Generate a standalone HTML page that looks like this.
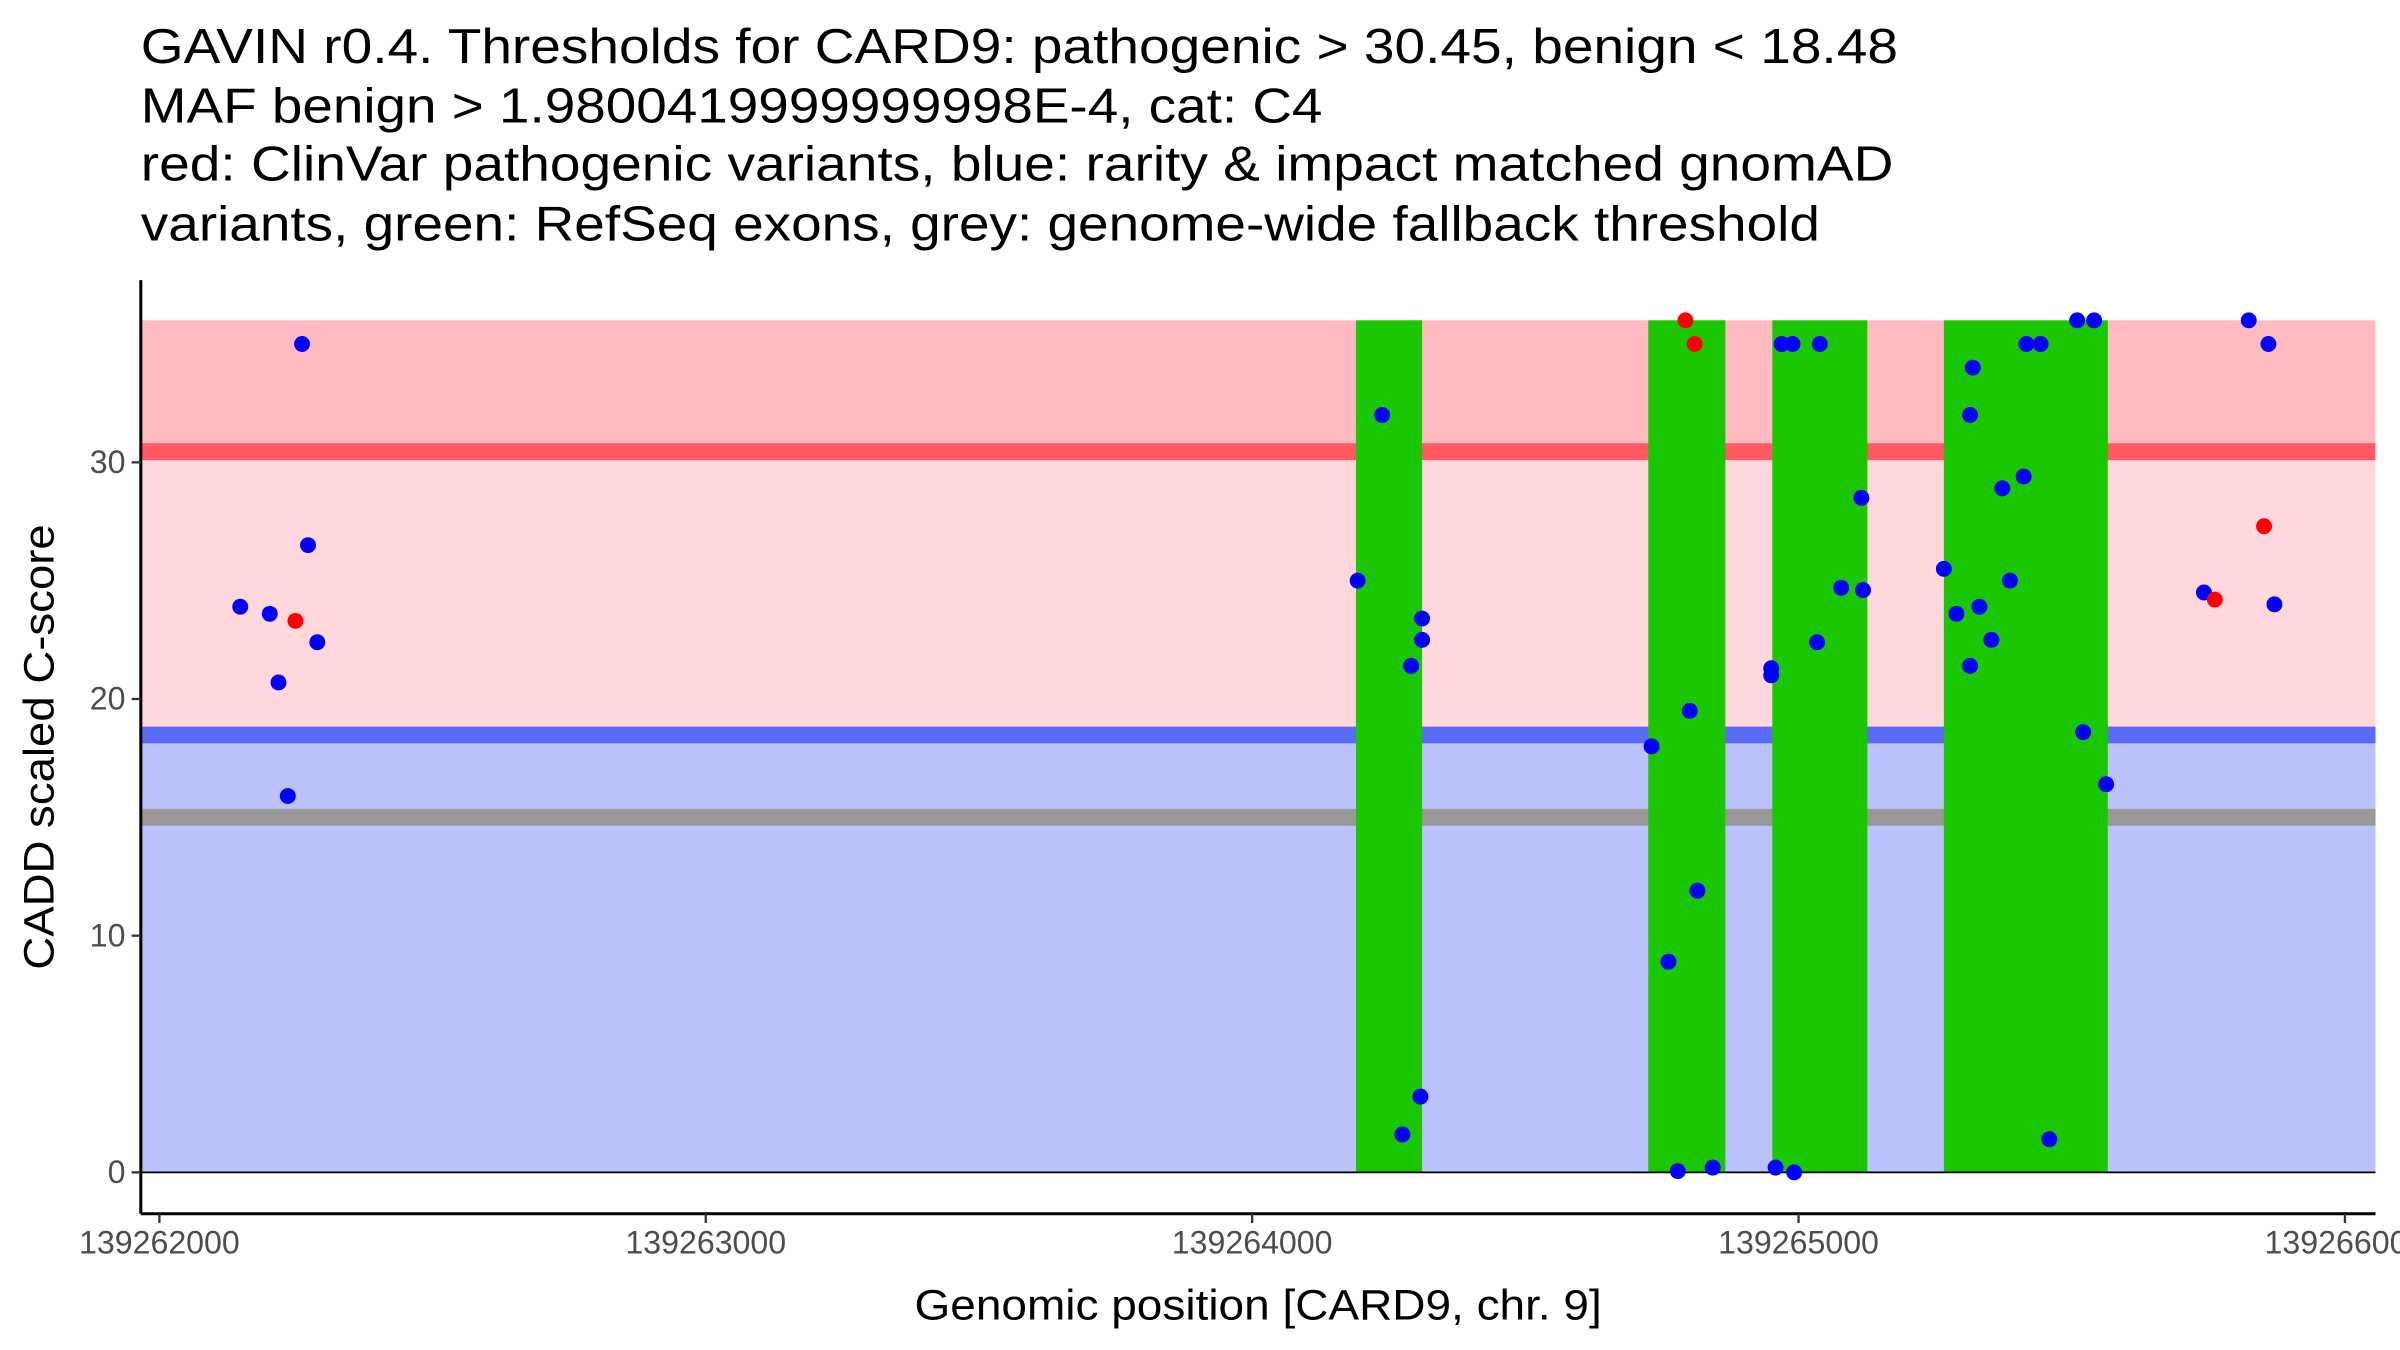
<!DOCTYPE html>
<html><head><meta charset="utf-8"><style>
html,body{margin:0;padding:0;background:#fff;}
svg{display:block;font-family:"Liberation Sans",Arial,sans-serif;}
</style></head><body>
<svg id="chart" width="2400" height="1350" viewBox="0 0 1568 882" xmlns="http://www.w3.org/2000/svg">
<g font-size="32" fill="#000">
<text x="92" y="41" textLength="1148" lengthAdjust="spacingAndGlyphs">GAVIN r0.4. Thresholds for CARD9: pathogenic &gt; 30.45, benign &lt; 18.48</text>
<text x="92" y="80" textLength="772" lengthAdjust="spacingAndGlyphs">MAF benign &gt; 1.9800419999999998E-4, cat: C4</text>
<text x="92" y="118" textLength="1145" lengthAdjust="spacingAndGlyphs">red: ClinVar pathogenic variants, blue: rarity &amp; impact matched gnomAD</text>
<text x="92" y="157" textLength="1097" lengthAdjust="spacingAndGlyphs">variants, green: RefSeq exons, grey: genome-wide fallback threshold</text>
</g>
<g id="plot"></g>
</svg>
<script>
const exonStarts=[139264190,139264725,139264952,139265266];
const exonEnds=[139264311,139264866,139265126,139265566];
const blueX=[139262148,139262202,139262218,139262235,139262261,139262272,139262289,139264193,139264238,139264275,139264291,139264308,139264311,139264311,139264731,139264762,139264779,139264801,139264815,139264843,139264950,139264950,139264958,139264969,139264989,139264992,139265034,139265039,139265078,139265115,139265118,139265266,139265289,139265314,139265314,139265319,139265331,139265353,139265373,139265387,139265412,139265417,139265443,139265459,139265510,139265521,139265541,139265563,139265742,139265824,139265860,139265871];
const blueY=[23.9,23.6,20.7,15.9,35,26.5,22.4,25,32,1.6,21.4,3.2,23.4,22.5,18,8.9,0.05,19.5,11.9,0.2,21.3,21,0.2,35,35,0,22.4,35,24.7,28.5,24.6,25.5,23.6,32,21.4,34,23.9,22.5,28.9,25,29.4,35,35,1.4,36,18.6,36,16.4,24.5,36,35,24];
const redX=[139262249,139264793,139264810,139265762,139265852];
const redY=[23.3,36,35,24.2,27.3];
const thresholds=[30.45,18.48,15];
const xTicks=[139262000,139263000,139264000,139265000,139266000];
const yTicks=[0,10,20,30];

const NS="http://www.w3.org/2000/svg";
const L=92,R=1552,T=183,B=793;
const xMin=139261966,xMax=139266056,yMin=-1.75,yMax=37.7;
const sx=v=>L+(v-xMin)/(xMax-xMin)*(R-L);
const sy=v=>B-(v-yMin)/(yMax-yMin)*(B-T);
const g=document.getElementById('plot');
function mk(tag,attrs){const e=document.createElementNS(NS,tag);for(const k in attrs)e.setAttribute(k,attrs[k]);g.appendChild(e);return e;}
let e;
e=mk('rect',{x:L,y:sy(36),width:R-L,height:sy(thresholds[0])-sy(36),fill:'#FFBBC0'});


e=mk('rect',{x:L,y:sy(thresholds[0]),width:R-L,height:sy(thresholds[1])-sy(thresholds[0]),fill:'#FFD7DC'});


e=mk('rect',{x:L,y:sy(thresholds[1]),width:R-L,height:sy(0)-sy(thresholds[1]),fill:'#BBC1FA'});


const tcol=['#FF5A64','#5A6BF5','#999999'];
const tnames=['pathogenic-threshold-line','benign-threshold-line','fallback-threshold-line'];
thresholds.forEach((t,i)=>{
 e=mk('line',{x1:L,x2:R,y1:sy(t),y2:sy(t),stroke:tcol[i],'stroke-width':11});
 
 
});
exonStarts.forEach((s,i)=>{
 e=mk('rect',{x:sx(s),y:sy(36),width:sx(exonEnds[i])-sx(s),height:sy(0)-sy(36),fill:'#1AC700'});
 
 
});
e=mk('line',{x1:L,x2:R,y1:sy(0),y2:sy(0),stroke:'#000','stroke-width':1.2});


blueX.forEach((x,i)=>{
 e=mk('circle',{cx:sx(x),cy:sy(blueY[i]),r:5.2,fill:'#0000FF'});
 
 
});
redX.forEach((x,i)=>{
 e=mk('circle',{cx:sx(x),cy:sy(redY[i]),r:5.2,fill:'#FF0000'});
 
 
});
e=mk('line',{x1:L,x2:L,y1:T,y2:B,stroke:'#000','stroke-width':2});


e=mk('line',{x1:L,x2:R,y1:B,y2:B,stroke:'#000','stroke-width':2});


yTicks.forEach(t=>{
 e=mk('line',{x1:L-6,x2:L,y1:sy(t),y2:sy(t),stroke:'#333','stroke-width':1.5});
 
 
 e=mk('text',{x:L-10,y:sy(t)+7,'text-anchor':'end','font-size':21,fill:'#4D4D4D'});
 e.textContent=t;
 
 
});
xTicks.forEach(t=>{
 e=mk('line',{x1:sx(t),x2:sx(t),y1:B,y2:B+6,stroke:'#333','stroke-width':1.5});
 
 
 e=mk('text',{x:sx(t),y:B+26,'text-anchor':'middle','font-size':21,fill:'#4D4D4D'});
 e.textContent=t;
 
 
});
e=mk('text',{x:(L+R)/2,y:862,'text-anchor':'middle','font-size':28,fill:'#000',textLength:449,lengthAdjust:'spacingAndGlyphs'});
e.textContent='Genomic position [CARD9, chr. 9]';


e=mk('text',{x:0,y:0,'text-anchor':'middle','font-size':28,fill:'#000',textLength:291,lengthAdjust:'spacingAndGlyphs',transform:'translate(35,'+((T+B)/2)+') rotate(-90)'});
e.textContent='CADD scaled C-score';


</script>
</body></html>
